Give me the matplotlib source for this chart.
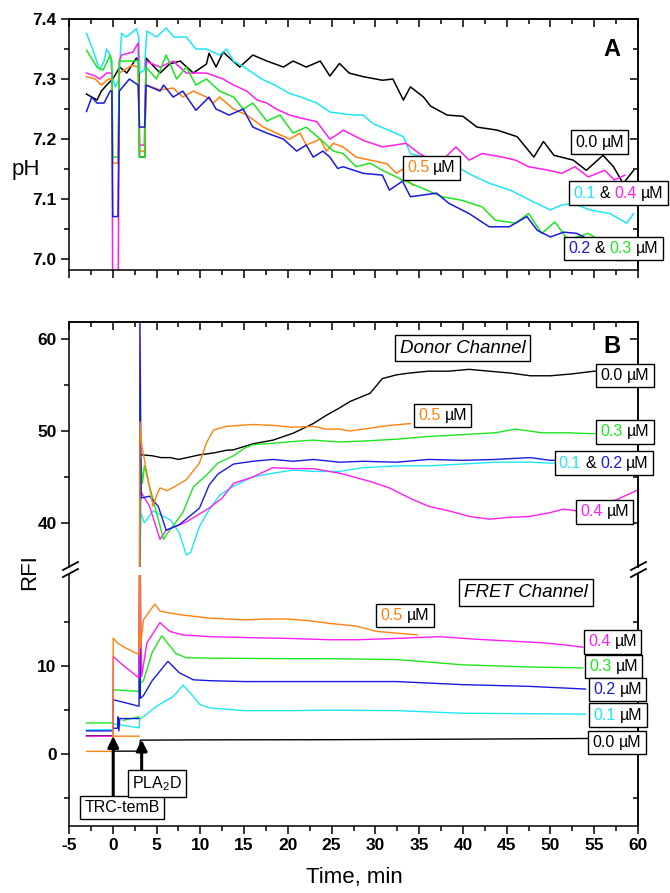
import numpy as np
import matplotlib
matplotlib.use("Agg")
import matplotlib.pyplot as plt
from matplotlib.ticker import FixedLocator, NullFormatter, FormatStrFormatter
from matplotlib.offsetbox import TextArea, HPacker, AnnotationBbox
from matplotlib.lines import Line2D

plt.rcParams['font.family'] = ['Liberation Sans', 'DejaVu Sans']
plt.rcParams['font.weight'] = 'bold'
plt.rcParams['mathtext.default'] = 'regular'
plt.rcParams['axes.unicode_minus'] = False

# colours per concentration (uM)
c00 = 'black'
c01 = '#1EE6F5'
c02 = '#1A1AE0'
c03 = '#1EE61E'
c04 = '#FF1EF0'
c05 = '#FF8210'

# ---- panel A: pH vs time (t, pH) ----
ph_00 = [(-3.0, 7.275), (-1.8, 7.265), (-1.3, 7.28), (-0.7, 7.29), (0.0, 7.30), (0.8, 7.32), (1.6, 7.31),
         (2.7, 7.335), (3.0, 7.33), (3.05, 7.17), (3.65, 7.17), (3.8, 7.335), (5.4, 7.31), (6.5, 7.325),
         (7.7, 7.33), (9.2, 7.31), (10.7, 7.325), (11.0, 7.343), (11.8, 7.32), (12.6, 7.345), (14.5, 7.32),
         (16.0, 7.34), (17.6, 7.33), (19.5, 7.32), (20.6, 7.33), (22.1, 7.32), (23.7, 7.33), (24.8, 7.305),
         (25.9, 7.326), (27.0, 7.31), (28.6, 7.304), (30.8, 7.298), (32.0, 7.30), (33.2, 7.265), (34.0, 7.287),
         (35.5, 7.27), (36.3, 7.255), (38.2, 7.24), (40.0, 7.238), (41.6, 7.22), (43.9, 7.215), (46.2, 7.204),
         (48.1, 7.17), (49.2, 7.196), (50.4, 7.173), (52.6, 7.165), (54.1, 7.148), (56.0, 7.173), (57.2, 7.154),
         (58.3, 7.126), (59.5, 7.148)]
ph_01 = [(-3.0, 7.376), (-2.3, 7.35), (-1.5, 7.315), (-1.0, 7.33), (-0.7, 7.35), (-0.3, 7.34), (0.0, 7.30),
         (0.3, 7.287), (0.7, 7.30), (1.0, 7.376), (1.5, 7.37), (2.0, 7.375), (2.7, 7.384), (2.95, 7.37),
         (3.1, 7.31), (3.6, 7.315), (3.9, 7.38), (5.0, 7.37), (6.1, 7.385), (7.0, 7.37), (8.4, 7.37), (9.5, 7.35),
         (10.7, 7.35), (12.2, 7.34), (13.0, 7.35), (13.8, 7.33), (15.0, 7.32), (16.0, 7.31), (17.0, 7.30),
         (18.5, 7.29), (20.2, 7.276), (21.5, 7.27), (23.3, 7.26), (24.8, 7.245), (25.9, 7.243), (27.5, 7.24),
         (28.6, 7.24), (29.8, 7.225), (31.5, 7.215), (33.2, 7.204), (34.0, 7.176), (35.5, 7.17), (37.5, 7.16),
         (39.3, 7.154), (41.0, 7.14), (43.1, 7.126), (45.4, 7.115), (47.7, 7.098), (50.0, 7.082), (51.2, 7.09),
         (52.6, 7.093), (54.5, 7.082), (56.8, 7.076), (58.7, 7.06), (59.5, 7.076)]
ph_02 = [(-3.0, 7.246), (-2.4, 7.27), (-1.8, 7.26), (-1.0, 7.26), (-0.3, 7.28), (-0.1, 7.28), (0.0, 7.071),
         (0.6, 7.071), (0.75, 7.28), (1.9, 7.30), (2.9, 7.29), (3.05, 7.22), (3.65, 7.22), (3.8, 7.29),
         (5.4, 7.28), (5.8, 7.29), (6.9, 7.27), (8.0, 7.28), (9.5, 7.248), (11.0, 7.27), (11.8, 7.25),
         (13.3, 7.24), (14.9, 7.25), (16.0, 7.22), (17.6, 7.21), (19.5, 7.20), (21.0, 7.18), (22.1, 7.19),
         (22.9, 7.17), (24.0, 7.18), (24.8, 7.17), (25.7, 7.151), (26.3, 7.154), (28.6, 7.143), (30.8, 7.14),
         (31.6, 7.115), (33.1, 7.13), (34.0, 7.104), (37.0, 7.11), (38.4, 7.093), (40.7, 7.076), (43.0, 7.054),
         (45.3, 7.054), (47.3, 7.071), (48.5, 7.048), (50.0, 7.037), (51.5, 7.045), (53.0, 7.043), (54.5, 7.032),
         (57.5, 6.998), (59.0, 6.998)]
ph_03 = [(-3.0, 7.348), (-1.8, 7.32), (-1.1, 7.315), (-0.3, 7.34), (-0.1, 7.33), (0.0, 7.17), (0.6, 7.17),
         (0.75, 7.33), (2.2, 7.33), (2.9, 7.33), (3.05, 7.17), (3.65, 7.17), (3.8, 7.32), (5.0, 7.30),
         (6.1, 7.34), (7.3, 7.30), (8.4, 7.32), (9.5, 7.29), (10.7, 7.30), (12.2, 7.28), (13.8, 7.27),
         (14.9, 7.25), (16.0, 7.26), (17.6, 7.23), (19.1, 7.24), (20.6, 7.21), (22.1, 7.22), (23.7, 7.20),
         (25.2, 7.18), (26.3, 7.176), (27.8, 7.154), (29.4, 7.16), (30.8, 7.148), (33.1, 7.132), (35.4, 7.118),
         (37.6, 7.104), (39.9, 7.098), (42.2, 7.087), (43.7, 7.065), (46.0, 7.06), (47.5, 7.076), (49.0, 7.043),
         (50.5, 7.062), (52.0, 7.032), (54.3, 7.043), (57.0, 7.021), (59.3, 6.998)]
ph_04 = [(-3.0, 7.31), (-2.0, 7.305), (-1.5, 7.30), (-0.7, 7.31), (-0.1, 7.31), (0.0, 6.90), (0.6, 6.90),
         (0.75, 7.33), (1.0, 7.34), (2.3, 7.345), (2.9, 7.36), (3.05, 7.19), (3.6, 7.19), (3.8, 7.33),
         (5.4, 7.32), (6.9, 7.33), (8.4, 7.31), (10.7, 7.31), (12.6, 7.30), (13.8, 7.29), (15.3, 7.28),
         (16.5, 7.265), (17.6, 7.26), (18.7, 7.25), (20.2, 7.24), (21.5, 7.235), (23.3, 7.229), (24.8, 7.20),
         (25.9, 7.21), (26.3, 7.215), (28.6, 7.198), (30.8, 7.187), (33.5, 7.193), (35.0, 7.176), (36.5, 7.165),
         (38.0, 7.17), (39.2, 7.187), (40.7, 7.165), (42.2, 7.176), (44.5, 7.17), (46.0, 7.165), (47.5, 7.154),
         (49.8, 7.148), (51.3, 7.143), (52.8, 7.154), (54.3, 7.137), (56.2, 7.148), (57.3, 7.132), (58.5, 7.14)]
ph_05 = [(-3.0, 7.304), (-2.0, 7.30), (-1.3, 7.29), (-0.5, 7.30), (-0.1, 7.30), (0.0, 7.16), (0.6, 7.16),
         (0.75, 7.31), (2.2, 7.323), (2.9, 7.32), (3.05, 7.18), (3.65, 7.18), (3.8, 7.29), (5.4, 7.282),
         (6.9, 7.285), (8.0, 7.27), (9.2, 7.28), (10.7, 7.27), (11.5, 7.26), (12.2, 7.27), (13.8, 7.25),
         (15.3, 7.24), (17.2, 7.22), (18.7, 7.21), (20.2, 7.20), (21.4, 7.21), (22.1, 7.19), (23.7, 7.20),
         (24.4, 7.18), (25.2, 7.193), (26.3, 7.187), (27.8, 7.17), (29.4, 7.165), (31.3, 7.159), (32.4, 7.143),
         (33.1, 7.15), (33.6, 7.132), (34.3, 7.123)]

# ---- panel B, donor channel (t, RFI) ----
don_00 = [(3.3, 47.4), (4.5, 47.3), (5.5, 47.1), (6.6, 47.1), (7.5, 46.9), (8.5, 47.1), (9.9, 47.4), (11.5, 47.6),
          (13.0, 47.9), (13.8, 47.95), (16.0, 48.6), (18.3, 49.0), (20.6, 49.75), (22.9, 50.8), (24.4, 51.7),
          (25.9, 52.5), (27.1, 53.2), (29.4, 54.1), (30.8, 55.7), (32.4, 56.1), (33.9, 56.3), (36.1, 56.5),
          (38.4, 56.5), (40.7, 56.7), (43.0, 56.5), (45.4, 56.3), (47.7, 56.0), (50.0, 56.0), (52.4, 56.2),
          (55.0, 56.5), (58.0, 56.3), (60.0, 56.3)]
don_01 = [(3.05, 30.0), (3.2, 41.1), (3.6, 40.0), (4.6, 41.3), (6.6, 40.3), (7.6, 38.9), (8.4, 36.5), (8.9, 36.8),
          (9.9, 39.6), (11.0, 41.4), (12.2, 43.0), (13.8, 44.0), (16.0, 45.0), (18.3, 45.4), (20.6, 45.75),
          (22.9, 45.6), (25.9, 45.6), (28.6, 46.0), (32.4, 46.2), (36.1, 46.2), (39.9, 46.4), (43.7, 46.6),
          (47.7, 46.6), (50.0, 46.5), (55.0, 46.5)]
don_02 = [(3.05, 30.0), (3.1, 62.5), (3.25, 42.7), (4.2, 42.9), (5.2, 41.8), (6.1, 39.2), (7.6, 39.8), (9.9, 41.6),
          (11.0, 44.1), (12.0, 45.3), (13.8, 46.4), (16.0, 46.7), (18.3, 46.9), (20.6, 46.7), (22.9, 46.9),
          (25.9, 46.6), (28.6, 46.7), (32.4, 46.6), (36.1, 46.9), (39.9, 46.8), (43.7, 46.9), (47.7, 47.1),
          (50.0, 46.8), (55.0, 46.9)]
don_03 = [(3.05, 30.0), (3.2, 47.0), (3.4, 44.3), (3.6, 46.2), (4.2, 44.0), (5.8, 38.2), (6.2, 38.8), (8.0, 41.1),
          (9.2, 43.9), (10.7, 45.2), (12.0, 46.5), (13.8, 47.3), (15.0, 48.1), (16.0, 48.5), (18.3, 48.66),
          (20.6, 48.85), (22.9, 49.0), (25.9, 48.8), (28.6, 48.9), (32.4, 49.1), (36.1, 49.4), (39.9, 49.6),
          (43.7, 49.8), (46.0, 50.2), (49.0, 49.8), (52.0, 49.8), (54.6, 49.7), (58.0, 49.8), (60.0, 49.8)]
don_04 = [(3.05, 30.0), (3.2, 43.4), (4.2, 41.8), (5.4, 38.2), (6.1, 39.2), (8.4, 40.1), (11.0, 41.6), (12.5, 42.7),
          (13.8, 44.3), (16.0, 45.0), (18.3, 46.0), (20.6, 45.9), (22.9, 45.9), (25.9, 45.4), (27.1, 45.1),
          (29.4, 44.5), (31.6, 43.8), (33.9, 42.7), (36.1, 41.8), (38.4, 41.3), (40.8, 40.7), (43.0, 40.4),
          (45.3, 40.6), (47.6, 40.7), (49.9, 41.1), (51.5, 41.5), (53.0, 41.3), (57.5, 42.5), (60.0, 43.6)]
don_05 = [(3.05, 30.0), (3.1, 51.0), (3.3, 48.5), (4.6, 41.8), (5.0, 43.0), (5.4, 43.8), (6.2, 43.5), (7.0, 43.9),
          (8.4, 44.7), (9.9, 46.5), (10.7, 48.7), (11.5, 50.1), (13.0, 50.5), (16.0, 50.7), (18.3, 50.6),
          (20.6, 50.4), (22.9, 50.5), (24.4, 50.2), (25.9, 50.2), (27.1, 50.0), (29.4, 50.3), (31.6, 50.6),
          (34.0, 50.8)]

# ---- panel B, FRET channel (t, RFI); nan splits a trace ----
nan = np.nan
fret_00 = [(-3.0, 2.05), (0.0, 2.05), (0.05, 0.3), (3.05, 0.3), (3.15, 1.55), (10.0, 1.58), (25.0, 1.6),
           (40.0, 1.66), (54.5, 1.74)]
fret_01 = [(-3.0, 2.7), (0.0, 2.75), (0.05, 3.4), (3.0, 2.95), (3.1, 4.0), (3.5, 4.2), (5.0, 5.4), (6.9, 6.5),
           (8.05, 7.8), (9.2, 6.5), (9.95, 5.6), (11.1, 5.2), (15.0, 4.9), (20.0, 4.9), (24.8, 4.95), (32.4, 4.9),
           (40.0, 4.6), (47.7, 4.55), (54.0, 4.5)]
fret_02 = [(-3.0, 2.6), (0.0, 2.6), (0.05, 6.14), (3.0, 5.4), (3.08, 25.0), (3.15, 6.3), (3.5, 6.6), (4.5, 8.3),
           (6.3, 10.5), (7.6, 9.2), (9.2, 8.4), (11.1, 8.3), (15.0, 8.2), (24.8, 8.2), (32.4, 8.2), (40.0, 7.85),
           (47.7, 7.65), (54.0, 7.35),
           (nan, nan), (0.05, 2.9), (0.55, 2.9), (0.6, 4.2), (0.7, 2.6), (0.8, 4.0), (3.0, 4.0)]
fret_03 = [(-3.0, 3.5), (0.0, 3.5), (0.05, 7.27), (3.0, 7.08), (3.08, 25.0), (3.15, 8.0), (3.5, 8.3), (4.5, 11.5),
           (5.6, 13.4), (7.2, 11.4), (8.4, 10.9), (12.0, 10.85), (20.0, 10.8), (24.8, 10.8), (32.4, 10.7),
           (40.0, 10.1), (47.7, 9.85), (53.7, 9.75),
           (nan, nan), (1.2, 3.8), (3.0, 4.2)]
fret_04 = [(-3.0, 2.0), (0.0, 2.0), (0.05, 11.06), (1.0, 10.2), (2.0, 9.4), (3.0, 8.6), (3.08, 25.0), (3.3, 8.8),
           (3.9, 12.6), (5.4, 14.9), (6.5, 13.9), (8.0, 13.5), (11.1, 13.3), (15.0, 13.2), (20.0, 13.1),
           (24.8, 12.95), (28.0, 12.95), (32.4, 13.1), (37.3, 13.3), (41.6, 13.0), (45.4, 12.8), (49.2, 12.6),
           (52.2, 12.3), (53.7, 12.1)]
fret_05 = [(-3.0, 0.27), (0.0, 0.27), (0.05, 13.15), (0.5, 12.6), (1.5, 12.0), (2.5, 11.5), (3.0, 11.3),
           (3.08, 25.0), (3.15, 12.0), (3.5, 15.2), (4.8, 17.0), (5.4, 16.2), (7.6, 15.8), (11.1, 15.4),
           (15.0, 15.2), (17.5, 15.3), (20.0, 15.3), (22.5, 15.1), (24.8, 14.8), (27.8, 14.5), (30.1, 13.9),
           (32.4, 13.7), (34.8, 13.5),
           (nan, nan), (0.05, 2.0), (3.0, 2.0)]

xticks_major = list(range(-5, 61, 5))
xticks_minor = [-2.5 + 5 * i for i in range(13)]


def px(x, y):
    return x / 670, 1 - y / 893


def ticks(ax, ymaj, ymin, bottom=True, top=True, xlabels=False):
    ax.xaxis.set_major_locator(FixedLocator(xticks_major))
    ax.xaxis.set_minor_locator(FixedLocator(xticks_minor))
    ax.yaxis.set_major_locator(FixedLocator(ymaj))
    ax.yaxis.set_minor_locator(FixedLocator(ymin))
    ax.tick_params(which='both', direction='out', width=1.1, labelsize=12.5, pad=3,
                   bottom=bottom, labelbottom=xlabels, top=False, right=False)
    ax.tick_params(which='major', length=6)
    ax.tick_params(which='minor', length=3.5)
    for s in ax.spines.values():
        s.set_linewidth(1.1)
    if top:
        sx = ax.secondary_xaxis('top')
        sx.xaxis.set_major_locator(FixedLocator(xticks_major))
        sx.xaxis.set_minor_locator(FixedLocator(xticks_minor))
        sx.xaxis.set_major_formatter(NullFormatter())
        sx.tick_params(which='both', direction='in', width=1.1)
        sx.tick_params(which='major', length=6)
        sx.tick_params(which='minor', length=3.5)
        sx.spines['top'].set_linewidth(1.1)
    sy = ax.secondary_yaxis('right')
    sy.yaxis.set_major_locator(FixedLocator(ymaj))
    sy.yaxis.set_minor_locator(FixedLocator(ymin))
    sy.yaxis.set_major_formatter(NullFormatter())
    sy.tick_params(which='both', direction='in', width=1.1)
    sy.tick_params(which='major', length=6)
    sy.tick_params(which='minor', length=3.5)
    sy.spines['right'].set_linewidth(1.1)


def trace(ax, pts, color, lw=1.0):
    t, v = zip(*pts)
    ax.plot(t, v, color=color, lw=lw)


def tag(ax, x, y, parts, fs=11.5):
    kids = [TextArea(s, textprops=dict(color=c, fontsize=fs, fontweight='normal')) for s, c in parts]
    box = HPacker(children=kids, align='baseline', pad=0, sep=3)
    ab = AnnotationBbox(box, (x, y), xycoords='data', frameon=True, pad=0.3,
                        box_alignment=(0.5, 0.5), annotation_clip=False, zorder=6,
                        bboxprops=dict(edgecolor='black', linewidth=1.0))
    ax.add_artist(ab)


def note(ax, x, y, s, fs=11.5, **kw):
    ax.text(x, y, s, fontsize=fs, fontweight='normal', ha='center', va='center',
            bbox=dict(boxstyle='square,pad=0.25', fc='white', ec='black', lw=1.0), **kw)


fig = plt.figure(figsize=(6.7, 8.93), dpi=100)
left, width = 69 / 670, 569 / 670
axA = fig.add_axes([left, 1 - 270 / 893, width, 251 / 893])
axU = fig.add_axes([left, 1 - 567 / 893, width, 245 / 893])
axL = fig.add_axes([left, 1 - 826 / 893, width, 251 / 893])

# panel A
for pts, c in [(ph_00, c00), (ph_01, c01), (ph_04, c04), (ph_05, c05), (ph_03, c03), (ph_02, c02)]:
    trace(axA, pts, c, lw=1.1)
axA.set_xlim(-5, 60)
axA.set_ylim(6.982, 7.4)
ticks(axA, [7.0, 7.1, 7.2, 7.3, 7.4], [7.05, 7.15, 7.25, 7.35])
axA.yaxis.set_major_formatter(FormatStrFormatter('%.1f'))
axA.text(57, 7.35, 'A', fontsize=17, fontweight='bold', ha='center', va='center')
tag(axA, 55.6, 7.195, [('0.0', 'black'), ('µM', 'black')])
tag(axA, 36.4, 7.152, [('0.5', c05), ('µM', 'black')])
tag(axA, 57.8, 7.11, [('0.1', c01), ('&', 'black'), ('0.4', c04), ('µM', 'black')])
tag(axA, 57.2, 7.018, [('0.2', c02), ('&', 'black'), ('0.3', c03), ('µM', 'black')])

# panel B upper (donor channel)
for pts, c in [(don_00, c00), (don_01, c01), (don_04, c04), (don_03, c03), (don_02, c02), (don_05, c05)]:
    trace(axU, pts, c)
axU.set_xlim(-5, 60)
axU.set_ylim(35.2, 61.85)
axU.spines['bottom'].set_visible(False)
ticks(axU, [40, 50, 60], [45, 55], bottom=False)
axU.text(57, 59.2, 'B', fontsize=17, fontweight='bold', ha='center', va='center')
note(axU, 40, 59.0, 'Donor Channel', fs=13.5, fontstyle='italic')
tag(axU, 58.5, 56.0, [('0.0', 'black'), ('µM', 'black')])
tag(axU, 37.7, 51.7, [('0.5', c05), ('µM', 'black')])
tag(axU, 58.5, 49.9, [('0.3', c03), ('µM', 'black')])
tag(axU, 56.1, 46.5, [('0.1', c01), ('&', 'black'), ('0.2', c02), ('µM', 'black')])
tag(axU, 56.2, 41.2, [('0.4', c04), ('µM', 'black')])

# panel B lower (FRET channel)
for pts, c in [(fret_00, c00), (fret_01, c01), (fret_03, c03), (fret_02, c02), (fret_04, c04), (fret_05, c05)]:
    trace(axL, pts, c)
axL.set_xlim(-5, 60)
axL.set_ylim(-8.2, 20.3)
axL.spines['top'].set_visible(False)
ticks(axL, [0, 10], [-5, 5, 15], top=False, xlabels=True)
note(axL, 47.2, 18.3, 'FRET Channel', fs=13.5, fontstyle='italic')
tag(axL, 33.4, 15.7, [('0.5', c05), ('µM', 'black')])
tag(axL, 57.1, 12.7, [('0.4', c04), ('µM', 'black')])
tag(axL, 57.2, 9.9, [('0.3', c03), ('µM', 'black')])
tag(axL, 57.7, 7.3, [('0.2', c02), ('µM', 'black')])
tag(axL, 57.7, 4.4, [('0.1', c01), ('µM', 'black')])
tag(axL, 57.6, 1.25, [('0.0', 'black'), ('µM', 'black')])

# addition arrows
arrow = dict(arrowstyle='-|>', color='black', lw=2.2, mutation_scale=16, shrinkA=0, shrinkB=0)
axL.annotate('', xy=(0.05, 2.0), xytext=(0.05, -4.9), arrowprops=arrow)
axL.annotate('', xy=(3.3, 1.6), xytext=(3.3, -2.2), arrowprops=arrow)
note(axL, 1.05, -6.1, 'TRC-temB')
note(axL, 5.05, -3.4, 'PLA$_2$D')

# axis break marks
for x0 in (63, 631):
    for dy in (0, 7):
        (xa, ya), (xb, yb) = px(x0, 570 + dy), px(x0 + 15, 562 + dy)
        fig.add_artist(Line2D([xa, xb], [ya, yb], color='black', lw=1.3))

fig.text(*px(26, 170), 'pH', fontsize=16, fontweight='normal', ha='center', va='center')
fig.text(*px(30, 572), 'RFI', fontsize=16, fontweight='normal', ha='center', va='center', rotation=90)
fig.text(*px(354, 878), 'Time, min', fontsize=16, fontweight='normal', ha='center', va='center')

fig.savefig('out.png', dpi=100)
